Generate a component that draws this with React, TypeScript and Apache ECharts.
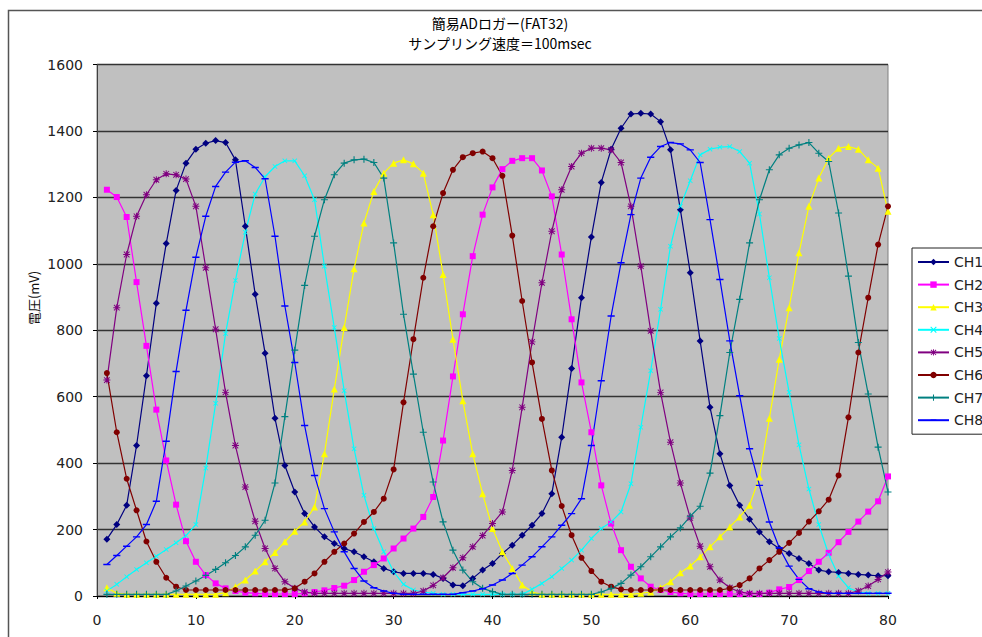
import React, { useEffect, useRef } from 'react';
import * as echarts from 'echarts';

const SAMPLE_NO = [
  1, 2, 3, 4, 5, 6, 7, 8, 9, 10, 11, 12, 13, 14, 15, 16, 17, 18, 19, 20,
  21, 22, 23, 24, 25, 26, 27, 28, 29, 30, 31, 32, 33, 34, 35, 36, 37, 38, 39, 40,
  41, 42, 43, 44, 45, 46, 47, 48, 49, 50, 51, 52, 53, 54, 55, 56, 57, 58, 59, 60,
  61, 62, 63, 64, 65, 66, 67, 68, 69, 70, 71, 72, 73, 74, 75, 76, 77, 78, 79, 80,
];

const CHANNEL_NAMES = ['CH1', 'CH2', 'CH3', 'CH4', 'CH5', 'CH6', 'CH7', 'CH8'];

const CH1 = [171, 215, 273, 453, 663, 881, 1061, 1221, 1303, 1345, 1363, 1371, 1365, 1313, 1113, 908, 731, 535, 393, 313, 248, 208, 178, 158, 143, 133, 118, 103, 83, 73, 68, 68, 68, 65, 53, 33, 31, 53, 78, 98, 128, 153, 183, 213, 248, 308, 478, 685, 898, 1081, 1245, 1345, 1408, 1451, 1453, 1451, 1428, 1343, 1163, 973, 768, 568, 428, 333, 273, 231, 193, 163, 143, 128, 113, 98, 78, 73, 71, 68, 65, 63, 61, 61];
const CH2 = [1223, 1201, 1141, 945, 753, 561, 408, 275, 165, 103, 63, 38, 23, 15, 10, 8, 6, 6, 6, 6, 8, 12, 17, 24, 31, 48, 73, 93, 113, 143, 173, 203, 238, 298, 468, 661, 848, 1023, 1148, 1230, 1285, 1310, 1318, 1318, 1281, 1203, 1028, 833, 643, 493, 333, 218, 138, 88, 53, 28, 18, 12, 8, 6, 6, 6, 6, 6, 6, 6, 6, 10, 20, 27, 48, 75, 103, 130, 162, 193, 224, 254, 285, 360];
const CH3 = [25, 8, 5, 5, 5, 5, 5, 5, 5, 5, 5, 5, 10, 28, 48, 75, 103, 131, 163, 195, 223, 268, 428, 623, 808, 985, 1123, 1218, 1273, 1303, 1313, 1301, 1273, 1148, 968, 773, 588, 428, 308, 203, 133, 83, 33, 12, 5, 5, 5, 5, 5, 5, 5, 5, 5, 5, 8, 12, 25, 43, 70, 90, 118, 148, 178, 208, 238, 273, 358, 535, 713, 868, 1033, 1173, 1258, 1318, 1348, 1353, 1345, 1313, 1288, 1158];
const CH4 = [15, 35, 58, 80, 100, 120, 140, 160, 182, 215, 385, 580, 790, 950, 1095, 1210, 1262, 1293, 1310, 1310, 1265, 1193, 993, 808, 618, 443, 303, 203, 133, 73, 35, 18, 12, 8, 5, 5, 5, 5, 5, 5, 5, 5, 5, 20, 38, 58, 83, 108, 138, 173, 203, 223, 253, 338, 508, 678, 863, 1053, 1173, 1250, 1328, 1345, 1351, 1353, 1338, 1303, 1150, 958, 775, 613, 455, 322, 215, 125, 60, 25, 12, 8, 8, 8];
const CH5 = [650, 868, 1028, 1143, 1208, 1253, 1271, 1268, 1255, 1173, 988, 803, 613, 453, 328, 225, 143, 83, 43, 23, 12, 8, 8, 8, 8, 8, 8, 8, 8, 8, 8, 8, 15, 32, 55, 85, 115, 148, 182, 218, 253, 378, 568, 765, 943, 1098, 1223, 1293, 1333, 1348, 1348, 1343, 1305, 1173, 993, 798, 613, 463, 340, 235, 150, 88, 48, 25, 12, 8, 8, 8, 8, 8, 8, 8, 8, 8, 8, 8, 15, 30, 50, 72];
const CH6 = [671, 493, 353, 258, 164, 103, 55, 28, 18, 18, 18, 18, 18, 18, 18, 18, 18, 18, 18, 23, 43, 68, 103, 133, 158, 188, 223, 253, 293, 381, 583, 773, 958, 1113, 1213, 1283, 1321, 1333, 1338, 1318, 1265, 1085, 888, 703, 533, 378, 271, 183, 115, 75, 43, 28, 20, 18, 18, 18, 18, 18, 18, 18, 18, 18, 18, 23, 33, 53, 83, 108, 133, 160, 190, 224, 255, 290, 363, 538, 733, 898, 1058, 1173];
const CH7 = [5, 5, 5, 5, 5, 5, 5, 15, 30, 45, 62, 80, 100, 122, 148, 183, 228, 340, 540, 740, 935, 1083, 1193, 1268, 1303, 1313, 1315, 1305, 1258, 1063, 848, 668, 493, 343, 223, 138, 78, 43, 23, 13, 5, 5, 5, 5, 5, 5, 5, 5, 5, 5, 12, 23, 38, 63, 88, 118, 148, 178, 205, 240, 270, 370, 543, 733, 893, 1063, 1193, 1283, 1328, 1348, 1358, 1365, 1333, 1308, 1153, 963, 763, 608, 448, 313];
const CH8 = [95, 122, 150, 178, 215, 285, 466, 676, 860, 1020, 1143, 1233, 1276, 1306, 1310, 1290, 1256, 1083, 873, 703, 513, 363, 263, 193, 133, 83, 45, 25, 15, 8, 5, 5, 5, 5, 5, 5, 10, 15, 22, 33, 48, 68, 93, 118, 148, 178, 213, 248, 293, 453, 648, 843, 1003, 1148, 1258, 1321, 1353, 1365, 1361, 1343, 1305, 1133, 953, 768, 603, 443, 333, 223, 145, 90, 50, 22, 12, 8, 8, 8, 8, 8, 8, 8];

const CHANNEL_VALUES = [CH1, CH2, CH3, CH4, CH5, CH6, CH7, CH8];

const TITLE_LINE1 = '簡易ADロガー(FAT32)';
const TITLE_LINE2 = 'サンプリング速度＝100msec';
const Y_NAME = '電圧(mV)';

const COLORS = ['#000080', '#ff00ff', '#ffff00', '#00ffff', '#800080', '#800000', '#008080', '#0000ff'];

const SYM_X = 'path://M0,1.2L1.2,0L5,3.8L8.8,0L10,1.2L6.2,5L10,8.8L8.8,10L5,6.2L1.2,10L0,8.8L3.8,5Z';
const SYM_PLUS = 'path://M4.2,0H5.8V4.2H10V5.8H5.8V10H4.2V5.8H0V4.2H4.2Z';
const SYM_STAR = 'path://M4.3,0H5.7V4.3H10V5.7H5.7V10H4.3V5.7H0V4.3H4.3Z M0.5,1.5L1.5,0.5L5,4L8.5,0.5L9.5,1.5L6,5L9.5,8.5L8.5,9.5L5,6L1.5,9.5L0.5,8.5L4,5Z';
const SYM_DASH = 'path://M0,0L0.05,0L0,0.05Z M10,10L9.95,10L10,9.95Z M0.5,4.1H9.5V5.9H0.5Z';

const SYMBOLS = ['diamond', 'rect', 'triangle', SYM_X, SYM_STAR, 'circle', SYM_PLUS, SYM_DASH];
const SYMBOL_SIZES = [7, 6, 7, 5, 7, 6, 7, 8];

const CJK = "'Noto Sans CJK JP', 'Noto Sans', sans-serif";
const LATIN = "'DejaVu Sans', sans-serif";

export default function App() {
  const ref = useRef<HTMLDivElement>(null);

  useEffect(() => {
    if (!ref.current) return;
    const chart = echarts.init(ref.current, null, { renderer: 'svg' });

    const series = CHANNEL_NAMES.map((name, s) => ({
      name,
      type: 'line',
      data: SAMPLE_NO.map((x, k) => [x, CHANNEL_VALUES[s][k]]),
      symbol: SYMBOLS[s],
      symbolSize: SYMBOL_SIZES[s],
      showSymbol: true,
      clip: false,
      lineStyle: { color: COLORS[s], width: 1.2 },
      itemStyle: { color: COLORS[s], borderWidth: 0 },
      emphasis: { disabled: true },
    }));

    const option = {
      animation: false,
      backgroundColor: '#ffffff',
      grid: {
        left: 97,
        top: 64.5,
        width: 791,
        height: 531.5,
        show: true,
        backgroundColor: '#c0c0c0',
        borderColor: '#808080',
        borderWidth: 1,
        containLabel: false,
      },
      xAxis: {
        type: 'value',
        min: 0,
        max: 80,
        interval: 10,
        axisLine: { show: true, onZero: false, lineStyle: { color: '#000', width: 1 } },
        axisTick: { show: true, length: 3, lineStyle: { color: '#000' } },
        axisLabel: { margin: 17, fontSize: 14, fontFamily: LATIN, color: '#222', formatter: (v: number) => String(v) },
        splitLine: { show: false },
      },
      yAxis: {
        type: 'value',
        min: 0,
        max: 1600,
        interval: 200,
        axisLine: { show: true, lineStyle: { color: '#404040', width: 1 } },
        axisTick: { show: true, length: 4, lineStyle: { color: '#000' } },
        axisLabel: { margin: 14, fontSize: 14, fontFamily: LATIN, color: '#222', formatter: (v: number) => String(v) },
        splitLine: { show: true, lineStyle: { color: '#333', width: 1.3 } },
      },
      legend: {
        orient: 'vertical',
        left: 912,
        top: 248,
        padding: [7, 8, 7, 5],
        itemWidth: 31,
        itemHeight: 8,
        itemGap: 8.6,
        backgroundColor: '#ffffff',
        borderColor: '#222',
        borderWidth: 1,
        selectedMode: false,
        textStyle: { fontSize: 14, lineHeight: 14, fontFamily: LATIN, color: '#222' },
        data: CHANNEL_NAMES,
      },
      graphic: [
        {
          type: 'rect',
          silent: true,
          z: -10,
          shape: { x: 8.5, y: 10.5, width: 1100, height: 800 },
          style: { fill: 'none', stroke: '#555', lineWidth: 1.5 },
        },
        {
          type: 'text',
          x: 500,
          y: 23,
          style: { text: TITLE_LINE1, fontSize: 14, fontFamily: CJK, fill: '#000', align: 'center', verticalAlign: 'middle' },
        },
        {
          type: 'text',
          x: 500,
          y: 43,
          style: { text: TITLE_LINE2, fontSize: 14, fontFamily: CJK, fill: '#000', align: 'center', verticalAlign: 'middle' },
        },
        {
          type: 'text',
          x: 33,
          y: 298,
          rotation: Math.PI / 2,
          style: { text: Y_NAME, fontSize: 13, fontFamily: CJK, fill: '#111', align: 'center', verticalAlign: 'middle' },
        },
      ],
      series,
    };

    chart.setOption(option as any);
    return () => chart.dispose();
  }, []);

  return (
    <div
      ref={ref}
      style={{ position: 'fixed', left: 0, top: 0, width: 1000, height: 637, background: '#fff' }}
    />
  );
}
